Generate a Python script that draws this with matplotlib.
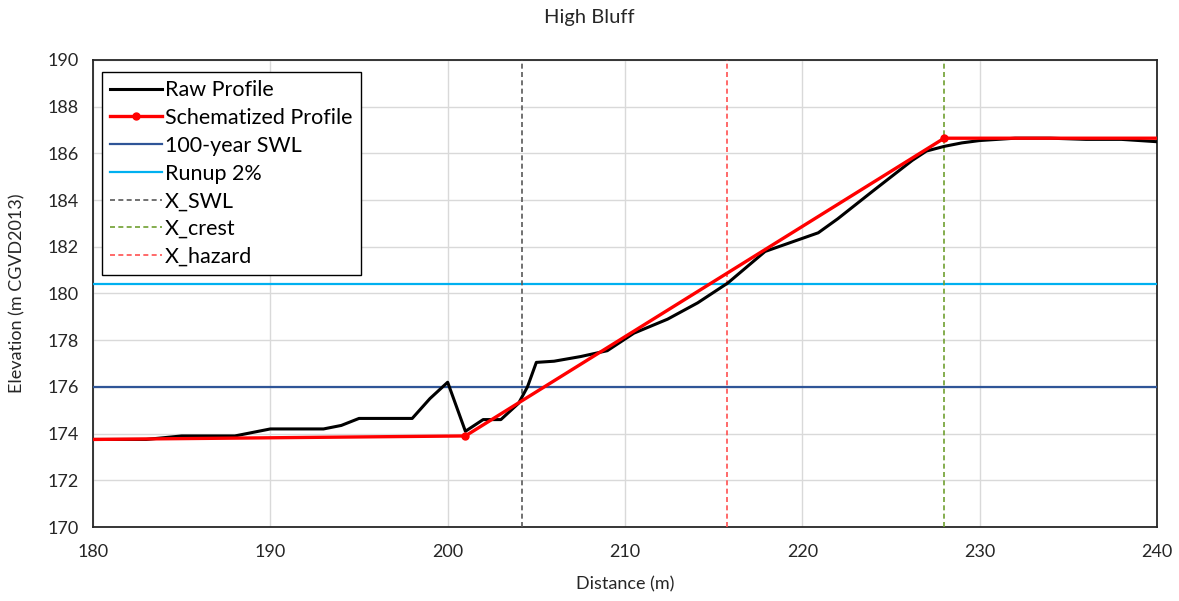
import matplotlib
matplotlib.use("Agg")
import matplotlib.pyplot as plt

plt.rcParams['font.family'] = ['Lato', 'DejaVu Sans']

raw_x = [180, 183, 185, 188, 190, 193, 194, 195, 198, 199, 200, 201, 202, 203, 204, 204.5,
         205, 206, 207.5, 209, 210.5, 212.4, 214.1, 215.8, 217.9, 220.9, 222, 224, 226.2,
         227, 228, 229, 230, 232, 234, 236, 238, 240]
raw_y = [173.75, 173.75, 173.9, 173.9, 174.2, 174.2, 174.35, 174.65, 174.65, 175.5, 176.2,
         174.1, 174.6, 174.6, 175.3, 176.0, 177.05, 177.1, 177.3, 177.55, 178.3, 178.9,
         179.6, 180.45, 181.8, 182.6, 183.2, 184.4, 185.7, 186.1, 186.3, 186.45, 186.55,
         186.65, 186.65, 186.6, 186.6, 186.5]

schem_x = [180, 201, 228, 240]
schem_y = [173.75, 173.9, 186.65, 186.65]

swl = 176.0
runup = 180.4
x_swl = 204.2
x_crest = 228.0
x_hazard = 215.75

fig = plt.figure(figsize=(11.79, 6.01), dpi=100)
ax = fig.add_axes([0.0789, 0.1231, 0.9024, 0.7771])

ax.plot(raw_x, raw_y, color='black', lw=2.2, zorder=5, label='Raw Profile')
ax.plot(schem_x, schem_y, color='#FF0000', lw=2.4, marker='o', ms=5, markevery=[1, 2],
        zorder=6, label='Schematized Profile')
ax.axhline(swl, color='#2F5597', lw=1.6, zorder=3, label='100-year SWL')
ax.axhline(runup, color='#00B0F0', lw=1.6, zorder=3, label='Runup 2%')
ax.axvline(x_swl, color='#595959', lw=1.2, ls=(0, (3, 2)), zorder=4, label='X_SWL')
ax.axvline(x_crest, color='#70A030', lw=1.2, ls=(0, (3, 2)), zorder=4, label='X_crest')
ax.axvline(x_hazard, color='#FF5050', lw=1.2, ls=(0, (3, 2)), zorder=4, label='X_hazard')

ax.set_xlim(180, 240)
ax.set_ylim(170, 190)
ax.set_xticks(range(180, 241, 10))
ax.set_yticks(range(170, 191, 2))
ax.grid(True, color='#D9D9D9', lw=1.0, zorder=0)
ax.set_axisbelow(True)
ax.tick_params(axis='x', length=0, labelsize=13, pad=12, colors='#262626')
ax.tick_params(axis='y', length=0, labelsize=13, pad=10, colors='#262626')
for s in ax.spines.values():
    s.set_color('#262626')
    s.set_linewidth(1.3)

ax.set_xlabel('Distance (m)', fontsize=13, color='#262626', labelpad=12)
ax.set_ylabel('Elevation (m CGVD2013)', fontsize=13, color='#262626', labelpad=16)
fig.suptitle('High Bluff', fontsize=14.5, y=0.985, color='#262626')

leg = ax.legend(loc='upper left', bbox_to_anchor=(0.008, 0.975), fontsize=15.5,
                frameon=True, fancybox=False, edgecolor='black', framealpha=1,
                handlelength=2.4, handletextpad=0.15, borderpad=0.4, labelspacing=0.36,
                borderaxespad=0)
leg.get_frame().set_linewidth(1.0)

fig.savefig('out.png', dpi=100)
